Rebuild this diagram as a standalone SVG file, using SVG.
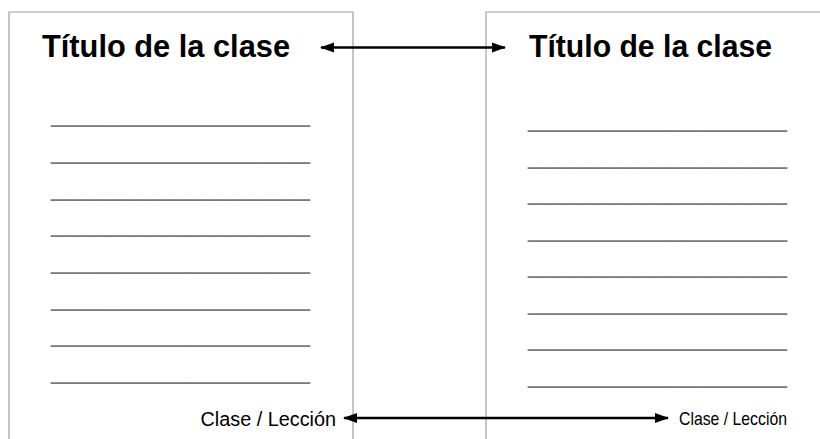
<svg xmlns="http://www.w3.org/2000/svg" width="820" height="439" viewBox="0 0 820 439">
  <style>
    .page { fill: none; stroke: #a0a0a0; stroke-width: 1.2; }
    .title { font-family: "Liberation Sans", Arial, sans-serif; font-weight: bold; font-size: 32px; fill: #000; }
    .label { font-family: "Liberation Sans", Arial, sans-serif; font-size: 19.5px; fill: #000; }
    .rule { font-family: "Liberation Sans", Arial, sans-serif; font-size: 27px; fill: #7a7a7a; }
    .conn { stroke: #000; stroke-width: 2.5; fill: none; }
  </style>
  <defs>
    <marker id="ah" markerUnits="userSpaceOnUse" markerWidth="14" markerHeight="11" refX="13" refY="5" orient="auto-start-reverse" viewBox="0 0 14 10">
      <path d="M0,0 L14,5 L0,10 z" fill="#000"/>
    </marker>
  </defs>
  <rect width="820" height="439" fill="#fff"/>

  <g id="page-left">
    <path class="page" d="M9,439 V12 H353 V439"/>
    <text class="title" x="42" y="57" textLength="248" lengthAdjust="spacingAndGlyphs">Título de la clase</text>
    <g class="rule">
      <text x="51" y="121" textLength="259" lengthAdjust="spacingAndGlyphs">_________________</text>
      <text x="51" y="158" textLength="259" lengthAdjust="spacingAndGlyphs">_________________</text>
      <text x="51" y="194.5" textLength="259" lengthAdjust="spacingAndGlyphs">_________________</text>
      <text x="51" y="231" textLength="259" lengthAdjust="spacingAndGlyphs">_________________</text>
      <text x="51" y="268" textLength="259" lengthAdjust="spacingAndGlyphs">_________________</text>
      <text x="51" y="304.5" textLength="259" lengthAdjust="spacingAndGlyphs">_________________</text>
      <text x="51" y="341" textLength="259" lengthAdjust="spacingAndGlyphs">_________________</text>
      <text x="51" y="378" textLength="259" lengthAdjust="spacingAndGlyphs">_________________</text>
    </g>
    <text class="label" x="200.5" y="425.5" textLength="135.5" lengthAdjust="spacingAndGlyphs">Clase / Lección</text>
  </g>

  <g id="page-right">
    <path class="page" d="M486,439 V12 H821"/>
    <text class="title" x="529" y="57" textLength="243" lengthAdjust="spacingAndGlyphs">Título de la clase</text>
    <g class="rule">
      <text x="528" y="126" textLength="259" lengthAdjust="spacingAndGlyphs">_________________</text>
      <text x="528" y="162.5" textLength="259" lengthAdjust="spacingAndGlyphs">_________________</text>
      <text x="528" y="199" textLength="259" lengthAdjust="spacingAndGlyphs">_________________</text>
      <text x="528" y="235.5" textLength="259" lengthAdjust="spacingAndGlyphs">_________________</text>
      <text x="528" y="272" textLength="259" lengthAdjust="spacingAndGlyphs">_________________</text>
      <text x="528" y="308.5" textLength="259" lengthAdjust="spacingAndGlyphs">_________________</text>
      <text x="528" y="345" textLength="259" lengthAdjust="spacingAndGlyphs">_________________</text>
      <text x="528" y="382" textLength="259" lengthAdjust="spacingAndGlyphs">_________________</text>
    </g>
    <text class="label" x="679" y="425" style="font-size:18.5px" textLength="108" lengthAdjust="spacingAndGlyphs">Clase / Lección</text>
  </g>

  <g id="connectors">
    <line class="conn" x1="321" y1="47.5" x2="505" y2="47.5" marker-start="url(#ah)" marker-end="url(#ah)"/>
    <line class="conn" x1="344" y1="418" x2="668" y2="418" marker-start="url(#ah)" marker-end="url(#ah)"/>
  </g>
</svg>
